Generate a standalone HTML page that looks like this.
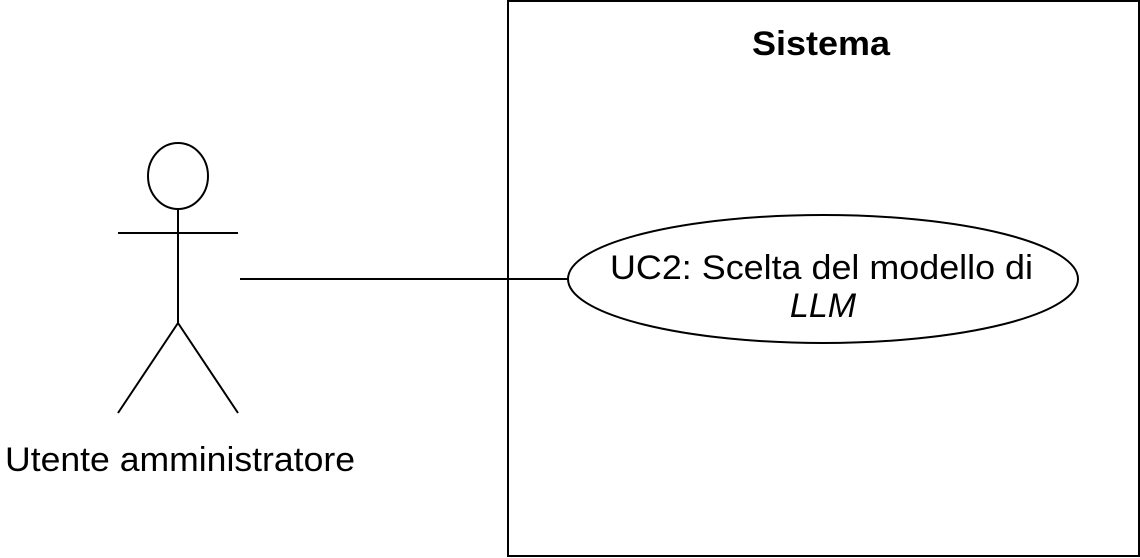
<!DOCTYPE html>
<html><head><meta charset="utf-8"><style>
html,body{margin:0;padding:0;background:#fff;width:1140px;height:558px;overflow:hidden}
</style></head><body>
<svg width="1140" height="558" xmlns="http://www.w3.org/2000/svg" font-family="Liberation Sans, Arial, sans-serif">
<rect x="508" y="1" width="631" height="555" fill="#fff" stroke="#000" stroke-width="2"/>
<text x="752" y="55" font-size="34" font-weight="bold" textLength="138" lengthAdjust="spacingAndGlyphs">Sistema</text>
<ellipse cx="178" cy="176" rx="30" ry="33" fill="#fff" stroke="#000" stroke-width="2"/>
<line x1="178" y1="209" x2="178" y2="323" stroke="#000" stroke-width="2"/>
<line x1="118" y1="233" x2="238" y2="233" stroke="#000" stroke-width="2"/>
<line x1="178" y1="323" x2="118" y2="413" stroke="#000" stroke-width="2"/>
<line x1="178" y1="323" x2="238" y2="413" stroke="#000" stroke-width="2"/>
<text x="5" y="471" font-size="34" textLength="350" lengthAdjust="spacingAndGlyphs">Utente amministratore</text>
<line x1="240" y1="279" x2="568" y2="279" stroke="#000" stroke-width="2"/>
<ellipse cx="823" cy="279" rx="255" ry="64" fill="#fff" stroke="#000" stroke-width="2"/>
<text x="610" y="279" font-size="34" textLength="423" lengthAdjust="spacingAndGlyphs">UC2: Scelta del modello di</text>
<text x="823" y="317" text-anchor="middle" font-size="34" font-style="italic">LLM</text>
</svg>
</body></html>
